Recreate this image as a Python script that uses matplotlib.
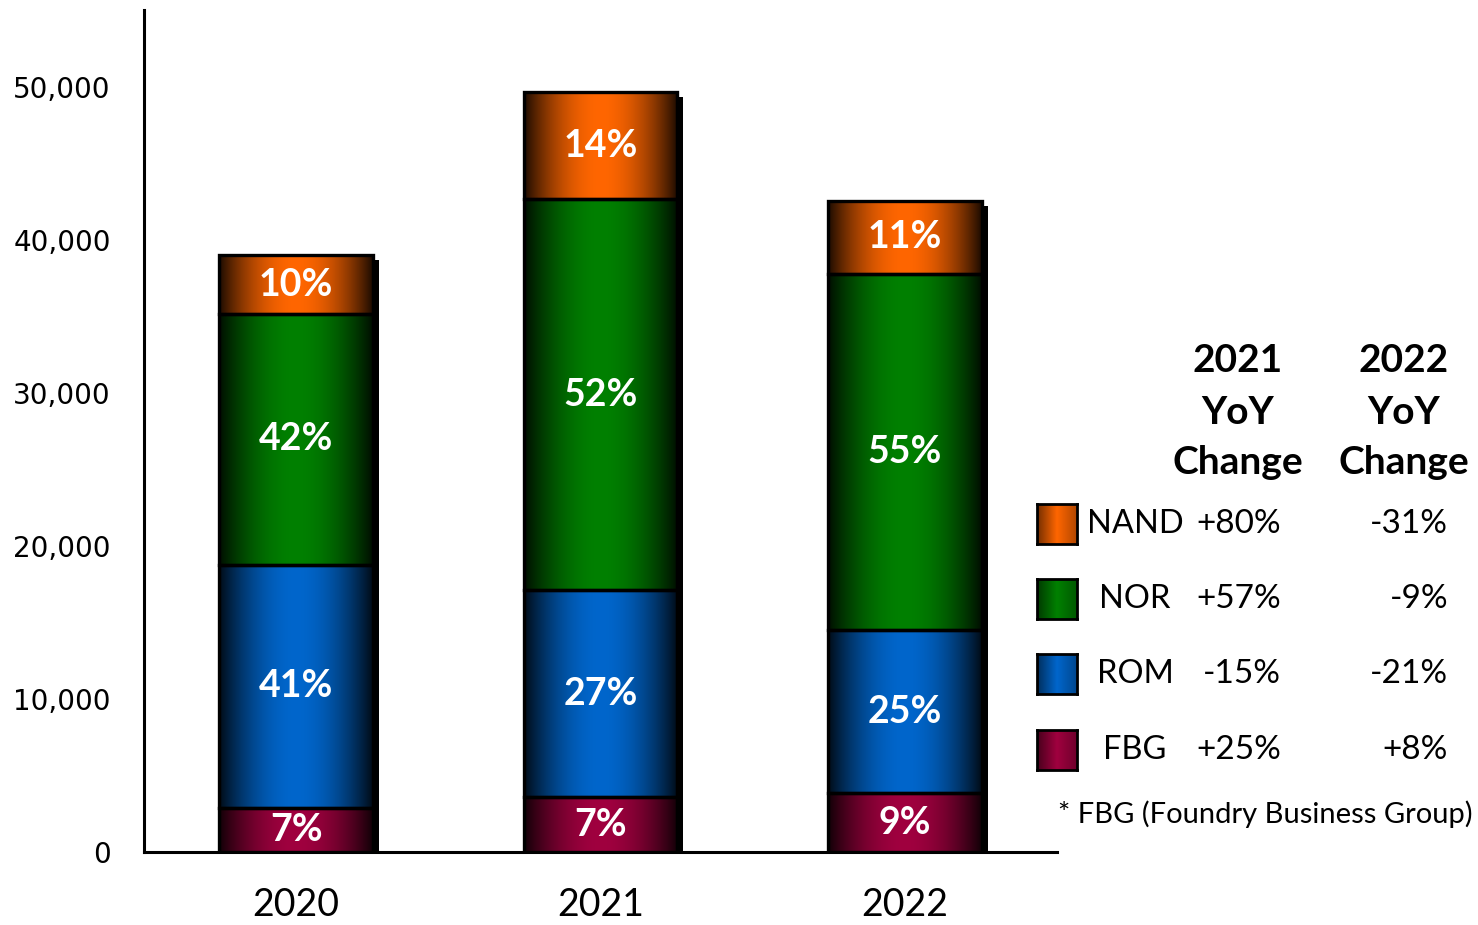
import numpy as np
import matplotlib
matplotlib.use("Agg")
import matplotlib.pyplot as plt
from matplotlib.transforms import offset_copy
from matplotlib.colors import to_rgb

W, H = 1478, 925

years = ["2020", "2021", "2022"]
segments = ["FBG", "ROM", "NOR", "NAND"]
fbg = [2870, 3590, 3850]
rom = [15900, 13500, 10630]
nor = [16360, 25550, 23270]
nand = [3850, 6980, 4800]
share_labels = {
    "FBG": ["7%", "7%", "9%"],
    "ROM": ["41%", "27%", "25%"],
    "NOR": ["42%", "52%", "55%"],
    "NAND": ["10%", "14%", "11%"],
}
yoy_2021 = ["+80%", "+57%", "-15%", "+25%"]
yoy_2022 = ["-31%", "-9%", "-21%", "+8%"]
legend_order = ["NAND", "NOR", "ROM", "FBG"]

colors = {"NAND": "#ff6600", "NOR": "#008000", "ROM": "#0066cc", "FBG": "#a0003f"}
values = {"FBG": fbg, "ROM": rom, "NOR": nor, "NAND": nand}

plt.rcParams['font.family'] = ['Lato', 'DejaVu Sans']

fig = plt.figure(figsize=(W / 100, H / 100), dpi=100)
ax = fig.add_axes([144 / W, 1 - 852 / H, (1057 - 144) / W, (852 - 10) / H])

x = np.arange(len(years))
width = 0.505

# horizontal shading: dark at both edges, full colour in the middle
t = np.linspace(0, 1, 300)
shade = 0.1 + 0.9 * np.sin(np.pi * t) ** 0.9

totals = np.sum([values[s] for s in segments], axis=0)

# drop shadow
shadow_tr = offset_copy(ax.transData, fig=fig, x=6, y=-5, units='dots')
ax.bar(x, totals, width, color='black', transform=shadow_tr, zorder=1)

bottom = np.zeros(len(years))
for seg in segments:
    vals = np.array(values[seg], dtype=float)
    rgb = np.array(to_rgb(colors[seg]))
    img = rgb[None, None, :] * shade[None, :, None]
    for i in range(len(years)):
        ax.imshow(img, extent=[x[i] - width / 2, x[i] + width / 2, bottom[i], bottom[i] + vals[i]],
                  aspect='auto', interpolation='bilinear', zorder=2)
        ax.text(x[i], bottom[i] + vals[i] / 2, share_labels[seg][i], ha='center', va='center',
                color='white', fontsize=27, fontweight='bold', zorder=4)
    ax.bar(x, vals, width, bottom=bottom, facecolor='none', edgecolor='black', linewidth=2.4, zorder=3)
    bottom += vals

ax.set_xlim(-0.5, 2.5)
ax.set_ylim(0, 55000)
ax.set_xticks(x)
ax.set_xticklabels(years, fontsize=27)
ax.set_yticks(range(0, 50001, 10000))
ax.set_yticklabels([f"{v:,}" for v in range(0, 50001, 10000)], fontsize=20, family='DejaVu Sans')
ax.tick_params(axis='y', length=0, pad=24)
ax.tick_params(axis='x', length=0, pad=25)
for s in ['top', 'right']:
    ax.spines[s].set_visible(False)
for s in ['left', 'bottom']:
    ax.spines[s].set_linewidth(2.2)


def fx(px):
    return px / W


def fy(py):
    return 1 - py / H


# table header
for cx, yr in [(1238, "2021"), (1404, "2022")]:
    for py, word in [(361, yr), (412, "YoY"), (463, "Change")]:
        fig.text(fx(cx), fy(py), word, ha='center', va='center', fontsize=28, fontweight='bold')

row_y = [524, 599, 674, 750]
for j, seg in enumerate(legend_order):
    sw = fig.add_axes([fx(1037), fy(row_y[j] + 20), 40 / W, 40 / H])
    rgb = np.array(to_rgb(colors[seg]))
    st = np.linspace(0, 1, 100)
    sv = np.interp(st, [0, 0.5, 1], [0.45, 1.0, 0.7])
    sw.imshow(rgb[None, None, :] * sv[None, :, None], aspect='auto', interpolation='bilinear')
    sw.set_xticks([])
    sw.set_yticks([])
    for s in sw.spines.values():
        s.set_linewidth(2)
    fig.text(fx(1135), fy(row_y[j]), seg, ha='center', va='center', fontsize=23.5)
    fig.text(fx(1281), fy(row_y[j]), yoy_2021[j], ha='right', va='center', fontsize=24)
    fig.text(fx(1448), fy(row_y[j]), yoy_2022[j], ha='right', va='center', fontsize=24)

fig.text(fx(1058), fy(814), "* FBG (Foundry Business Group)", ha='left', va='center', fontsize=21)

fig.savefig("out.png", dpi=100)
